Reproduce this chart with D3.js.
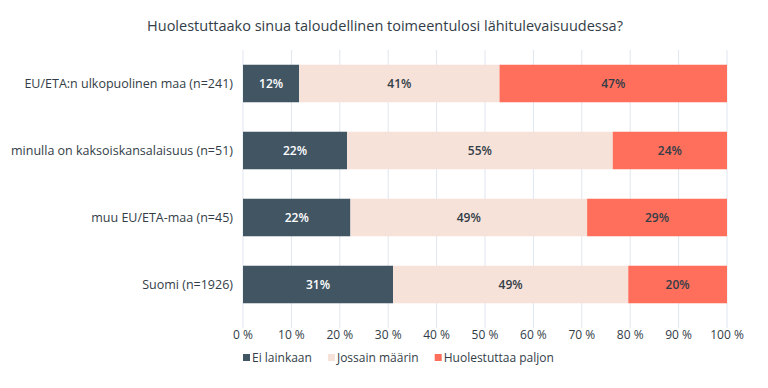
<!DOCTYPE html>
<html>
<head>
<meta charset="utf-8">
<script src="https://cdn.jsdelivr.net/npm/d3@7"></script>
<style>
  body { margin: 0; background: #fff; }
  text { font-family: "Open Sans", "Noto Sans", sans-serif; }
</style>
</head>
<body>
<div class="viz"></div>
<script>
const categories = ['EU/ETA:n ulkopuolinen maa (n=241)', 'minulla on kaksoiskansalaisuus (n=51)', 'muu EU/ETA-maa (n=45)', 'Suomi (n=1926)']
const seriesNames = ['Ei lainkaan', 'Jossain määrin', 'Huolestuttaa paljon']
const eiLainkaan = [11.6, 21.5, 22.2, 31.0]
const jossainMaarin = [41.4, 54.9, 48.9, 48.6]
const huolestuttaa = [47.0, 23.6, 28.9, 20.4]
const ticks = [0, 10, 20, 30, 40, 50, 60, 70, 80, 90, 100]
const title = 'Huolestuttaako sinua taloudellinen toimeentulosi lähitulevaisuudessa?'

const colors = ['#425563', '#f6e2d9', '#ff6f5c']
const labelColors = ['#ffffff', '#333d47', '#333d47']
const width = 768, height = 388
const margin = { top: 50, right: 41, bottom: 70, left: 243 }

const svg = d3.select('.viz').append('svg')
  .attr('width', width).attr('height', height)

svg.append('text')
  .attr('x', 385).attr('y', 31)
  .attr('text-anchor', 'middle')
  .attr('font-size', 14.5)
  .attr('fill', '#333d47')
  .text(title)

const x = d3.scaleLinear().domain([0, 100]).range([margin.left, width - margin.right])
const y = d3.scaleBand().domain(categories).range([margin.top, height - margin.bottom]).paddingInner(0.44).paddingOuter(0.22)

// grid
svg.append('g').selectAll('line')
  .data(ticks).enter().append('line')
  .attr('x1', d => x(d)).attr('x2', d => x(d))
  .attr('y1', margin.top).attr('y2', height - margin.bottom + 10)
  .attr('stroke', '#dfe6ee').attr('stroke-width', 1)

// stack data
const rows = categories.map((c, i) => {
  const vals = [eiLainkaan[i], jossainMaarin[i], huolestuttaa[i]]
  let acc = 0
  return vals.map((v, k) => {
    const seg = { cat: c, k, v, x0: acc, x1: acc + v }
    acc += v
    return seg
  })
})

const segs = svg.append('g').selectAll('g')
  .data(rows).enter().append('g')

segs.selectAll('rect')
  .data(d => d).enter().append('rect')
  .attr('x', d => x(d.x0))
  .attr('y', d => y(d.cat))
  .attr('width', d => x(d.x1) - x(d.x0))
  .attr('height', y.bandwidth())
  .attr('fill', d => colors[d.k])

segs.selectAll('text')
  .data(d => d).enter().append('text')
  .attr('x', d => (x(d.x0) + x(d.x1)) / 2)
  .attr('y', d => y(d.cat) + y.bandwidth() / 2 + 4.5)
  .attr('text-anchor', 'middle')
  .attr('font-size', 12)
  .attr('font-weight', 600)
  .attr('fill', d => labelColors[d.k])
  .text(d => Math.round(d.v) + '%')

// category labels
svg.append('g').selectAll('text')
  .data(categories).enter().append('text')
  .attr('x', margin.left - 10)
  .attr('y', d => y(d) + y.bandwidth() / 2 + 4.5)
  .attr('text-anchor', 'end')
  .attr('font-size', 12.5)
  .attr('fill', '#333d47')
  .text(d => d)

// x tick labels
svg.append('g').selectAll('text')
  .data(ticks).enter().append('text')
  .attr('x', d => x(d))
  .attr('y', 339)
  .attr('text-anchor', 'middle')
  .attr('font-size', 12)
  .attr('fill', '#333d47')
  .text(d => d + ' %')

// legend, items placed one after another
const legend = svg.append('g').attr('transform', 'translate(243, 362)')
let lx = 0
seriesNames.forEach((name, i) => {
  const item = legend.append('g').attr('transform', `translate(${lx}, 0)`)
  item.append('rect')
    .attr('x', 0).attr('y', -8).attr('width', 7).attr('height', 7)
    .attr('fill', colors[i])
  const t = item.append('text')
    .attr('x', 9).attr('y', 0)
    .attr('font-size', 12)
    .attr('fill', '#333d47')
    .text(name)
  lx += 9 + t.node().getComputedTextLength() + 16
})
</script>
</body>
</html>
